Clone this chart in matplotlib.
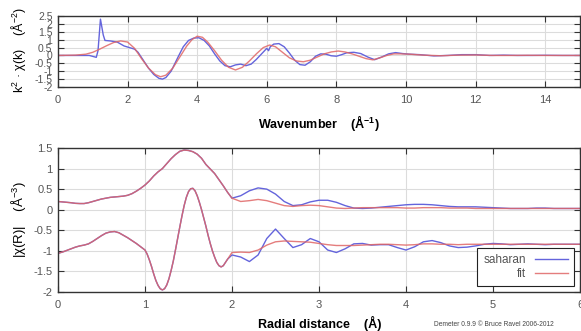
import matplotlib
matplotlib.use('Agg')
from matplotlib import pyplot as plt
import numpy as np

plt.rcParams['font.family'] = ['Liberation Sans', 'DejaVu Sans']
plt.rcParams['mathtext.fontset'] = 'custom'
plt.rcParams['mathtext.rm'] = 'Liberation Sans'
plt.rcParams['mathtext.default'] = 'regular'

# ---------------- chi(k) Daten ----------------
k_data = [0, 0.5, 0.9, 1.1, 1.15, 1.22, 1.3, 1.35, 1.5, 1.7, 1.9, 2.05, 2.2, 2.3, 2.45,
          2.6, 2.75, 2.9, 3.0, 3.1, 3.25, 3.45, 3.6, 3.75, 3.9, 4.05, 4.2, 4.35, 4.5,
          4.65, 4.8, 4.95, 5.1, 5.25, 5.4, 5.55, 5.7, 5.85, 6.0, 6.05, 6.1, 6.2, 6.35,
          6.5, 6.65, 6.8, 6.95, 7.1, 7.25, 7.4, 7.55, 7.7, 7.85, 8.0, 8.15, 8.3, 8.5,
          8.7, 8.9, 9.1, 9.3, 9.5, 9.7, 9.9, 10.1, 10.4, 10.8, 11.2, 11.6, 12.0, 12.4,
          12.8, 13.2, 13.6, 14.0, 14.5, 15.0]
chik_data = [0, 0, 0.0, -0.12, 0.3, 2.3, 1.3, 0.95, 0.92, 0.85, 0.6, 0.5, 0.4, 0.2, -0.3,
             -0.8, -1.2, -1.45, -1.5, -1.4, -1.0, -0.1, 0.55, 0.95, 1.1, 1.12, 0.95, 0.6, 0.1,
             -0.35, -0.65, -0.72, -0.6, -0.55, -0.65, -0.55, -0.25, 0.1, 0.45, 0.3, 0.55, 0.72, 0.75,
             0.55, 0.15, -0.3, -0.58, -0.62, -0.4, -0.05, 0.1, 0.08, -0.02, -0.05, 0.05, 0.17, 0.2,
             0.12, -0.1, -0.27, -0.1, 0.1, 0.18, 0.12, 0.08, 0.05, -0.03, 0.0, 0.05, 0.05, 0.0,
             0.02, 0.0, 0.0, 0.01, 0.0, 0.0]

k_fit = [0, 0.5, 0.8, 1.0, 1.2, 1.4, 1.6, 1.8, 2.0, 2.2, 2.4, 2.6, 2.8, 2.95, 3.1, 3.3,
         3.5, 3.7, 3.85, 4.0, 4.15, 4.3, 4.5, 4.7, 4.9, 5.1, 5.3, 5.5, 5.7, 5.9, 6.08,
         6.25, 6.45, 6.65, 6.85, 7.05, 7.25, 7.45, 7.65, 7.85, 8.05, 8.25, 8.45, 8.65,
         8.85, 9.05, 9.25, 9.45, 9.65, 9.85, 10.1, 10.5, 11, 11.5, 12, 12.5, 13, 13.5,
         14, 14.5, 15]
chik_fit = [0, 0.02, 0.08, 0.2, 0.4, 0.62, 0.82, 0.92, 0.85, 0.45, -0.2, -0.8, -1.22, -1.35,
            -1.25, -0.8, -0.1, 0.6, 1.0, 1.22, 1.15, 0.85, 0.3, -0.3, -0.75, -0.92, -0.75,
            -0.35, 0.1, 0.5, 0.66, 0.55, 0.2, -0.15, -0.35, -0.4, -0.3, -0.1, 0.1, 0.22,
            0.28, 0.22, 0.1, -0.05, -0.2, -0.28, -0.15, 0.0, 0.1, 0.1, 0.08, 0.02, -0.02,
            0.02, 0.03, 0.0, 0.0, 0.01, 0.0, 0.0, 0.0]

# ---------------- chi(R) Daten ----------------
# Betrag |chi(R)|
R_mag = [0, 0.05, 0.1, 0.15, 0.2, 0.25, 0.3, 0.35, 0.4, 0.45, 0.5, 0.55, 0.6, 0.65, 0.7,
         0.75, 0.8, 0.85, 0.9, 0.95, 1.0, 1.05, 1.1, 1.15, 1.2, 1.25, 1.3, 1.35, 1.4, 1.45,
         1.5, 1.55, 1.6, 1.65, 1.7, 1.75, 1.8, 1.85, 1.9, 1.95, 2.0]
mag_common = [0.20, 0.19, 0.18, 0.17, 0.155, 0.15, 0.15, 0.17, 0.2, 0.23, 0.26, 0.28, 0.3,
              0.31, 0.32, 0.33, 0.35, 0.39, 0.45, 0.52, 0.6, 0.7, 0.82, 0.92, 1.0, 1.12,
              1.24, 1.34, 1.42, 1.45, 1.44, 1.41, 1.35, 1.25, 1.1, 0.99, 0.88, 0.73, 0.58,
              0.42, 0.28]

# Realteil Re[chi(R)]
R_re = [0, 0.05, 0.1, 0.15, 0.2, 0.25, 0.3, 0.35, 0.4, 0.45, 0.5, 0.55, 0.6, 0.65, 0.7,
        0.75, 0.8, 0.85, 0.9, 0.95, 1.0, 1.025, 1.05, 1.075, 1.1, 1.125, 1.15, 1.175,
        1.2, 1.225, 1.25, 1.275, 1.3, 1.325, 1.35, 1.375, 1.4, 1.425, 1.45, 1.475, 1.5,
        1.525, 1.55, 1.575, 1.6, 1.625, 1.65, 1.675, 1.7, 1.725, 1.75, 1.775, 1.8, 1.825,
        1.85, 1.875, 1.9, 1.925, 1.95]
re_common = [-1.06, -1.03, -0.99, -0.95, -0.91, -0.88, -0.86, -0.83, -0.77, -0.7, -0.63,
             -0.57, -0.54, -0.53, -0.56, -0.62, -0.68, -0.75, -0.82, -0.9, -0.98, -1.08,
             -1.22, -1.38, -1.56, -1.72, -1.84, -1.92, -1.95, -1.92, -1.83, -1.68, -1.48,
             -1.25, -0.98, -0.7, -0.42, -0.15, 0.1, 0.3, 0.44, 0.51, 0.52, 0.46, 0.34, 0.18,
             0.0, -0.2, -0.4, -0.62, -0.82, -1.0, -1.15, -1.28, -1.36, -1.39, -1.36, -1.28,
             -1.2]

# Ende ab R = 2 (Daten und Fit laufen auseinander)
R_tail = [2.1, 2.2, 2.3, 2.4, 2.5, 2.6, 2.7, 2.8, 2.9, 3.0, 3.1, 3.2, 3.3, 3.4, 3.5, 3.6,
          3.7, 3.8, 3.9, 4.0, 4.1, 4.2, 4.3, 4.4, 4.5, 4.6, 4.7, 4.8, 4.9, 5.0, 5.1, 5.2,
          5.3, 5.4, 5.5, 5.6, 5.7, 5.8, 5.9, 6.0]
mag_data_tail = [0.34, 0.46, 0.53, 0.5, 0.38, 0.2, 0.1, 0.12, 0.19, 0.23, 0.23, 0.18,
                 0.1, 0.04, 0.03, 0.04, 0.06, 0.08, 0.1, 0.12, 0.13, 0.13, 0.12, 0.1,
                 0.08, 0.07, 0.07, 0.07, 0.06, 0.05, 0.04, 0.03, 0.03, 0.03, 0.04,
                 0.04, 0.03, 0.03, 0.03, 0.03]
mag_fit_tail = [0.2, 0.22, 0.25, 0.22, 0.16, 0.1, 0.08, 0.1, 0.11, 0.1, 0.07, 0.04,
                0.03, 0.04, 0.05, 0.05, 0.05, 0.05, 0.05, 0.04, 0.04, 0.05, 0.05, 0.05,
                0.04, 0.04, 0.04, 0.03, 0.03, 0.03, 0.03, 0.03, 0.03, 0.03, 0.03,
                0.03, 0.03, 0.03, 0.03, 0.03]
re_data_tail = [-1.1, -1.15, -1.26, -1.1, -0.7, -0.47, -0.7, -0.92, -0.85, -0.7, -0.78,
                -0.98, -1.04, -0.95, -0.83, -0.82, -0.86, -0.85, -0.85, -0.92, -0.98,
                -0.9, -0.78, -0.75, -0.8, -0.88, -0.92, -0.91, -0.88, -0.84, -0.82,
                -0.83, -0.85, -0.84, -0.83, -0.84, -0.85, -0.84, -0.84, -0.84, -0.84]
re_fit_tail = [-1.04, -1.03, -1.04, -0.98, -0.86, -0.78, -0.76, -0.77, -0.78, -0.79,
               -0.82, -0.85, -0.87, -0.87, -0.87, -0.86, -0.85, -0.84, -0.84, -0.85,
               -0.86, -0.85, -0.83, -0.83, -0.84, -0.84, -0.85, -0.84, -0.84, -0.84,
               -0.84, -0.84, -0.84, -0.84, -0.84, -0.84, -0.84, -0.84, -0.84, -0.84,
               -0.84]

R_mag_all = R_mag + R_tail
R_re_all = R_re + [2.0] + R_tail

blau = '#6464dc'
rot = '#e06666'
grau = '#555555'

fig = plt.figure(figsize=(5.81, 3.31), dpi=100)
ax1 = fig.add_axes([58/581, 1-87/331, 522/581, 71/331])
ax2 = fig.add_axes([58/581, 1-292/331, 522/581, 144/331])


def achse_stylen(ax):
    for sp in ax.spines.values():
        sp.set_color('#333333')
        sp.set_linewidth(1.0)
    ax.tick_params(direction='in', length=4, width=0.8, color='#333333',
                   top=True, right=True, labelcolor=grau, labelsize=8)
    ax.tick_params(axis='x', pad=6)
    ax.tick_params(axis='y', pad=4)
    ax.grid(color='#dcdcdc', linewidth=0.8)
    ax.set_axisbelow(True)


# oberer Plot: chi(k)
ax1.plot(k_data, chik_data, color=blau, lw=1.0)
ax1.plot(k_fit, chik_fit, color=rot, lw=1.0, alpha=0.85)
ax1.set_xlim(0, 15)
ax1.set_ylim(-2, 2.5)
ax1.set_xticks(np.arange(0, 15, 2))
ax1.set_yticks(np.arange(-2, 2.6, 0.5))
ax1.set_yticklabels(['-2', '-1.5', '-1', '-0.5', '0', '0.5', '1', '1.5', '2', '2.5'])
achse_stylen(ax1)
ax1.tick_params(axis='y', labelsize=7.5)

# unterer Plot: chi(R)
ax2.plot(R_mag_all, mag_common + mag_data_tail, color=blau, lw=1.0, label='saharan')
ax2.plot(R_re_all, re_common + re_data_tail, color=blau, lw=1.0)
ax2.plot(R_mag_all, mag_common + mag_fit_tail, color=rot, lw=1.0, alpha=0.85, label='fit')
ax2.plot(R_re_all, re_common + re_fit_tail, color=rot, lw=1.0, alpha=0.85)
ax2.set_xlim(0, 6)
ax2.set_ylim(-2, 1.5)
ax2.set_xticks(np.arange(0, 7, 1))
ax2.set_yticks(np.arange(-2, 1.6, 0.5))
ax2.set_yticklabels(['-2', '-1.5', '-1', '-0.5', '0', '0.5', '1', '1.5'])
achse_stylen(ax2)

leg = ax2.legend(loc='lower right', bbox_to_anchor=(0.989, 0.042), borderaxespad=0.,
                 markerfirst=False, handlelength=2.8, fontsize=8.5, fancybox=False,
                 framealpha=1, edgecolor='#222222', labelspacing=0.2,
                 borderpad=0.5, handletextpad=0.8)
leg.get_frame().set_linewidth(0.8)
for t in leg.get_texts():
    t.set_color(grau)
    t.set_ha('right')

# Beschriftungen
fig.text(319/581, 1-123/331, r'Wavenumber    (Å$^{-1}$)', ha='center', va='center',
         fontsize=9, fontweight='bold')
fig.text(320/581, 1-323/331, 'Radial distance    (Å)', ha='center', va='center',
         fontsize=9, fontweight='bold')
fig.text(18/581, 1-50/331, r'k$^2$ · χ(k)    (Å$^{-2}$)', ha='center', va='center',
         rotation=90, fontsize=9)
fig.text(18/581, 1-220/331, r'|χ(R)|    (Å$^{-3}$)', ha='center', va='center',
         rotation=90, fontsize=9.5)
fig.text(494/581, 1-324/331, 'Demeter 0.9.9 © Bruce Ravel 2006-2012', ha='center',
         va='center', fontsize=4.8, color='#444444')

fig.savefig('out.png', dpi=100)
